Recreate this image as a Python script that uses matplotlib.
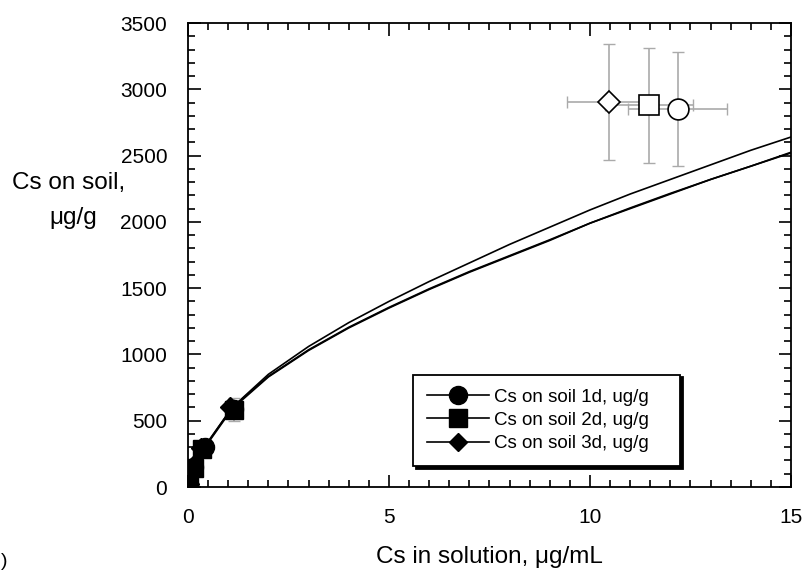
import matplotlib.pyplot as plt
from matplotlib.lines import Line2D
from matplotlib.ticker import MultipleLocator

plt.rcParams['font.family'] = ['Liberation Sans', 'DejaVu Sans']

# fitted curves
curve_x = [0, 0.03, 0.15, 0.4, 1.1, 2, 3, 4, 5, 6, 7, 8, 9, 10, 11, 12, 13, 14, 15]
curve_1d = [0, 20, 150, 300, 600, 850, 1060, 1240, 1400, 1550, 1690, 1830, 1960, 2090, 2210, 2320, 2430, 2540, 2640]
curve_2d = [0, 15, 145, 290, 590, 830, 1030, 1200, 1350, 1490, 1620, 1740, 1860, 1990, 2100, 2210, 2320, 2420, 2520]
curve_3d = [0, 25, 155, 295, 600, 835, 1035, 1205, 1355, 1495, 1625, 1745, 1865, 1990, 2105, 2215, 2320, 2420, 2525]

# measured points
pts_1d_x = [0.0, 0.03, 0.15, 0.42, 1.14]
pts_1d_y = [0, 20, 150, 300, 590]
pts_2d_x = [0.0, 0.03, 0.15, 0.36, 1.14]
pts_2d_y = [0, 15, 146, 287, 583]
pts_2d_err = [0, 5, 15, 25, 85]
pts_3d_x = [0.0, 0.03, 0.12, 0.33, 1.05]
pts_3d_y = [0, 25, 155, 295, 600]

# open symbols top right (mean +- sd)
open_x = [12.18, 11.47, 10.47]
open_y = [2855, 2880, 2905]
open_xerr = [1.24, 1.09, 1.05]
open_yerr = [430, 435, 436]
open_markers = ['o', 's', 'D']
open_sizes = [15, 15, 11]

labels = ['Cs on soil 1d, ug/g', 'Cs on soil 2d, ug/g', 'Cs on soil 3d, ug/g']

fig = plt.figure(figsize=(8.05, 5.71), dpi=100)
ax = fig.add_axes([0.2335, 0.1471, 0.7491, 0.8126])

ax.plot(curve_x, curve_1d, color='black', lw=1.2)
ax.plot(curve_x, curve_2d, color='black', lw=1.2)
ax.plot(curve_x, curve_3d, color='black', lw=1.2)

ax.errorbar(pts_2d_x, pts_2d_y, yerr=pts_2d_err, fmt='none', ecolor='#aaaaaa',
            elinewidth=1.2, capsize=4)
ax.plot(pts_1d_x, pts_1d_y, 'o', color='black', ms=13, ls='none')
ax.plot(pts_3d_x, pts_3d_y, 'D', color='black', ms=10, ls='none')
ax.plot(pts_2d_x, pts_2d_y, 's', color='black', ms=13, ls='none')

for i in range(3):
    ax.errorbar(open_x[i], open_y[i], xerr=open_xerr[i], yerr=open_yerr[i],
                fmt='none', ecolor='#aaaaaa', elinewidth=1.2, capsize=4)
for i in range(3):
    ax.plot(open_x[i], open_y[i], open_markers[i], mfc='white', mec='black',
            mew=1.2, ms=open_sizes[i], zorder=5)

ax.set_xlim(0, 15)
ax.set_ylim(0, 3500)
ax.xaxis.set_major_locator(MultipleLocator(5))
ax.xaxis.set_minor_locator(MultipleLocator(0.5))
ax.yaxis.set_major_locator(MultipleLocator(500))
ax.yaxis.set_minor_locator(MultipleLocator(100))
ax.tick_params(which='both', direction='in', top=True, right=True, width=1.2,
               labelsize=15, colors='black')
ax.tick_params(which='major', length=9, pad=15)
ax.tick_params(which='minor', length=5)
for s in ax.spines.values():
    s.set_linewidth(1.3)

ax.set_xlabel('Cs in solution, μg/mL', fontsize=17.5, labelpad=14)
fig.text(0.015, 0.68, 'Cs on soil,', fontsize=17.5, ha='left', va='center')
fig.text(0.121, 0.618, 'μg/g', fontsize=17.5, ha='right', va='center')
fig.text(0.001, 0.001, ')', fontsize=14, ha='left', va='bottom')

handles = [
    Line2D([], [], color='black', lw=1.2, marker='o', ms=13),
    Line2D([], [], color='black', lw=1.2, marker='s', ms=13),
    Line2D([], [], color='black', lw=1.2, marker='D', ms=9),
]
leg = ax.legend(handles, labels, loc='upper left',
                bbox_to_anchor=(0.373, 0.054, 0.443, 0.188), mode='expand',
                borderaxespad=0, fontsize=13.5, frameon=True, fancybox=False,
                handlelength=3.3, handletextpad=0.3, labelspacing=0.32,
                borderpad=0.75, shadow={'color': 'black', 'alpha': 1})
leg.get_frame().set_edgecolor('black')
leg.get_frame().set_linewidth(1.3)

fig.savefig('out.png', dpi=100)
